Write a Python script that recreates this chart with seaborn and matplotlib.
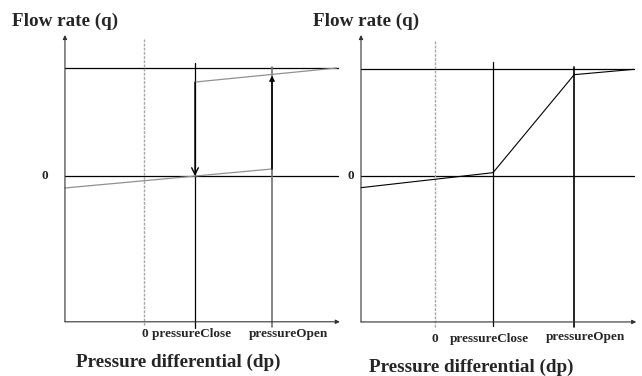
import matplotlib
matplotlib.use("Agg")
import matplotlib.pyplot as plt
import seaborn as sns
import pandas as pd

sns.set_style("white")
plt.rcParams['font.family'] = ['Liberation Serif', 'DejaVu Serif']
plt.rcParams['font.weight'] = 'bold'

# valeurs (dp: 0 = ligne pointillee, pressureClose = 1)
# panneau gauche : hysteresis
left_p_close, left_p_open = 1.0, 2.51
left_dp_min, left_dp_max = -1.55, 3.78
left_lower_dp = [-1.55, 2.51]
left_lower_q = [-0.111, 0.065]
left_upper_dp = [1.0, 3.78]
left_upper_q = [0.87, 1.0]

# panneau droit : rampe lineaire
right_p_close, right_p_open = 1.0, 2.40
right_dp_min, right_dp_max = -1.276, 3.43
right_curve_dp = [-1.276, 1.0, 2.40, 3.43]
right_curve_q = [-0.109, 0.031, 0.947, 0.997]

q_max = 1.0
W, H = 642, 376

fig = plt.figure(figsize=(W / 100, H / 100), dpi=100)


def px_axes(x0, y0, x1, y1):
    return fig.add_axes([x0 / W, 1 - y1 / H, (x1 - x0) / W, (y1 - y0) / H])


def draw_frame(ax, dp_min, dp_max, q_bot, q_top, dp_end, p_close, p_open,
               dash_ext, close_ext, open_ext, open_col):
    ax.set_axis_off()
    # axes avec fleches
    ax.annotate('', xy=(dp_end, q_bot), xytext=(dp_min, q_bot),
                arrowprops=dict(arrowstyle='-|>', color='#333333', lw=0.8,
                                mutation_scale=6, shrinkA=0, shrinkB=0))
    ax.annotate('', xy=(dp_min, q_top), xytext=(dp_min, q_bot),
                arrowprops=dict(arrowstyle='-|>', color='#333333', lw=0.8,
                                mutation_scale=6, shrinkA=0, shrinkB=0))
    # lignes horizontales q=0 et q=qMax
    ax.plot([dp_min, dp_max], [0, 0], color='black', lw=0.9)
    ax.plot([dp_min, dp_max], [q_max, q_max], color='black', lw=0.9)
    # verticales
    ax.plot([0, 0], dash_ext, color='#a8a8a8', lw=1, ls=(0, (2, 1)))
    ax.plot([p_close, p_close], close_ext, color='black', lw=0.9)
    ax.plot([p_open, p_open], open_ext, color=open_col, lw=1.2)


# ---- gauche
ax1 = px_axes(30, 30, 345, 335)
ax1.set_xlim((30 - 144) / 51, (345 - 144) / 51)
ax1.set_ylim((176 - 335) / 108, (176 - 30) / 108)
draw_frame(ax1, left_dp_min, left_dp_max + 0.02, -1.35, 1.306, 3.84,
           left_p_close, left_p_open,
           [1.27, -1.39], [1.046, -1.41], [1.01, -1.40], '#707070')
sns.lineplot(data=pd.DataFrame({'dp': left_lower_dp, 'q': left_lower_q}),
             x='dp', y='q', ax=ax1, color='#909090', lw=0.9, sort=False)
sns.lineplot(data=pd.DataFrame({'dp': left_upper_dp, 'q': left_upper_q}),
             x='dp', y='q', ax=ax1, color='#909090', lw=0.9, sort=False)
ax1.set_axis_off()
# fleches de commutation
ax1.annotate('', xy=(left_p_close, 0.0), xytext=(left_p_close, left_upper_q[0]),
             arrowprops=dict(arrowstyle='->', color='black', lw=1,
                             mutation_scale=12, shrinkA=0, shrinkB=0))
ax1.annotate('', xy=(left_p_open, 0.93), xytext=(left_p_open, left_lower_q[1]),
             arrowprops=dict(arrowstyle='->', color='black', lw=1.2,
                             mutation_scale=7, shrinkA=0, shrinkB=0))

# ---- droite
ax2 = px_axes(330, 30, 640, 335)
ax2.set_xlim((330 - 435) / 58, (640 - 435) / 58)
ax2.set_ylim((176 - 335) / 107, (176 - 30) / 107)
draw_frame(ax2, right_dp_min, right_dp_max, -1.364, 1.318, 3.47,
           right_p_close, right_p_open,
           [1.262, -1.42], [1.065, -1.40], [1.02, -1.41], 'black')
sns.lineplot(data=pd.DataFrame({'dp': right_curve_dp, 'q': right_curve_q}),
             x='dp', y='q', ax=ax2, color='black', lw=0.8, sort=False)
ax2.set_axis_off()

# ---- textes
big = dict(fontsize=13.8, fontweight='bold')
small = dict(fontsize=9.5, fontweight='bold', va='center')
fig.text(12 / W, 1 - 21 / H, 'Flow rate (q)', ha='left', va='center', **big)
fig.text(313 / W, 1 - 21 / H, 'Flow rate (q)', ha='left', va='center', **big)
fig.text(48 / W, 1 - 176 / H, '0', ha='right', **small)
fig.text(354 / W, 1 - 176 / H, '0', ha='right', **small)

fig.text(142 / W, 1 - 334 / H, '0 pressureClose', ha='left', **small)
fig.text(288 / W, 1 - 334 / H, 'pressureOpen', ha='center', **small)
fig.text(178 / W, 1 - 362 / H, 'Pressure differential (dp)', ha='center', va='center', **big)

fig.text(435 / W, 1 - 339 / H, '0', ha='center', **small)
fig.text(489 / W, 1 - 339 / H, 'pressureClose', ha='center', **small)
fig.text(585 / W, 1 - 337 / H, 'pressureOpen', ha='center', **small)
fig.text(471 / W, 1 - 367 / H, 'Pressure differential (dp)', ha='center', va='center', **big)

fig.savefig('out.png', dpi=100)
plt.close(fig)
